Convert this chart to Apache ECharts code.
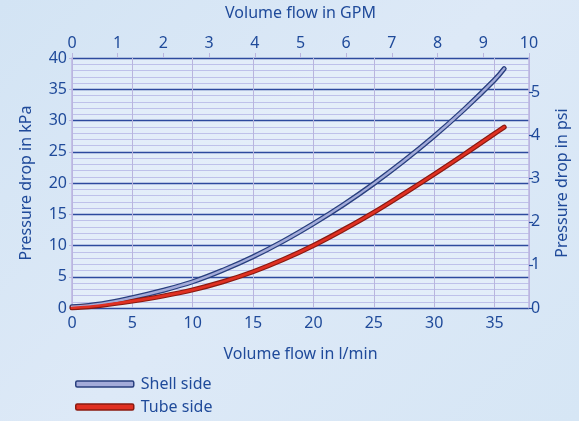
<!DOCTYPE html>
<html>
<head>
<meta charset="utf-8">
<script src="https://cdn.jsdelivr.net/npm/echarts@6/dist/echarts.min.js"></script>
<style>
html,body{margin:0;padding:0;}
#c{width:579px;height:421px;background:linear-gradient(135deg,#d3e4f4 0%,#dde9f7 50%,#d6e6f5 100%);}
</style>
</head>
<body>
<div id="c"></div>
<script>
var flowLmin = [0, 2.5, 5, 7.5, 10, 12.5, 15, 17.5, 20, 22.5, 25, 27.5, 30, 32.5, 35, 35.8];
var shellKPa = [0.2, 0.7, 1.65, 2.8, 4.2, 6.05, 8.2, 10.7, 13.5, 16.55, 19.9, 23.55, 27.5, 31.8, 36.5, 38.3];
var tubeKPa  = [0.0, 0.45, 1.1, 1.9, 2.9, 4.2, 5.8, 7.75, 10.0, 12.55, 15.3, 18.3, 21.4, 24.6, 27.9, 28.95];
var seriesNames = ['Shell side', 'Tube side'];
var gpmTicks = [0, 1, 2, 3, 4, 5, 6, 7, 8, 9, 10];
var psiTicks = [0, 1, 2, 3, 4, 5];

var LPM_PER_GPM = 3.78541;
var KPA_PER_PSI = 6.89476;
var txt = '#1f4a9a';
var font = 'Noto Sans';
var fs = 16;
function pairs(xs, ys){ return xs.map(function(x,i){ return [x, ys[i]]; }); }

var chart = echarts.init(document.getElementById('c'));
chart.setOption({
  backgroundColor: 'transparent',
  textStyle: {fontFamily: font},
  grid: {left: 72, right: 50, top: 58, bottom: 113, containLabel: false, outerBoundsMode: 'none',
         show: true, backgroundColor: 'rgba(235,243,252,0.55)', borderWidth: 0},
  legend: {
    orient: 'vertical', left: 70, top: 371, height: 60, itemWidth: 58, itemHeight: 6, itemGap: 7,
    textStyle: {color: txt, fontSize: fs, fontFamily: font, padding: [0,0,0,2]},
    data: [
      {name: seriesNames[0], icon: 'roundRect', itemStyle: {color: '#a3abd9', borderColor: '#283f7e', borderWidth: 1.5}},
      {name: seriesNames[1], icon: 'roundRect', itemStyle: {color: '#e03022', borderColor: '#8a1a10', borderWidth: 1.5}}
    ]
  },
  xAxis: [
    {type: 'value', position: 'bottom', min: 0, max: 10 * LPM_PER_GPM, interval: 5,
     name: 'Volume flow in l/min', nameLocation: 'middle', nameGap: 38,
     nameTextStyle: {color: txt, fontSize: fs, fontFamily: font},
     axisLine: {show: false, onZero: false}, axisTick: {show: false},
     axisLabel: {color: txt, fontSize: fs, margin: 7, showMaxLabel: false,
       formatter: function(v){ return (Math.abs(v % 5) < 1e-6) ? String(v) : ''; }},
     splitLine: {show: true, lineStyle: {color: '#b9b5de', width: 1}}},
    {type: 'value', position: 'top', min: 0, max: 10, interval: 1,
     name: 'Volume flow in GPM', nameLocation: 'middle', nameGap: 37,
     nameTextStyle: {color: txt, fontSize: fs, fontFamily: font},
     axisLine: {show: false, onZero: false},
     axisTick: {show: true, length: 5, lineStyle: {color: '#b9b5de', width: 1}},
     axisLabel: {color: txt, fontSize: fs, margin: 7},
     splitLine: {show: false}}
  ],
  yAxis: [
    {type: 'value', position: 'left', min: 0, max: 40, interval: 5,
     name: 'Pressure drop in kPa', nameLocation: 'middle', nameGap: 38,
     nameTextStyle: {color: txt, fontSize: fs, fontFamily: font},
     axisLine: {show: true, onZero: false, lineStyle: {color: '#bcb6e0', width: 1.5}},
     axisTick: {show: true, length: 3, lineStyle: {color: '#bcb6e0'}},
     axisLabel: {color: txt, fontSize: fs, margin: 5},
     splitLine: {show: true, lineStyle: {color: '#2d4a9e', width: 1.3}},
     minorTick: {show: false, splitNumber: 5},
     minorSplitLine: {show: true, lineStyle: {color: '#bec1ea', width: 1}}},
    {type: 'value', position: 'right', min: 0, max: 40 / KPA_PER_PSI, interval: 1,
     name: 'Pressure drop in psi', nameLocation: 'middle', nameGap: 25,
     nameTextStyle: {color: txt, fontSize: fs, fontFamily: font},
     axisLine: {show: true, onZero: false, lineStyle: {color: '#bcb6e0', width: 1.5}},
     axisTick: {show: true, length: 4, lineStyle: {color: txt, width: 1.2}},
     axisLabel: {color: txt, fontSize: fs, margin: 2, showMaxLabel: false,
       formatter: function(v){ return psiTicks.indexOf(v) >= 0 ? String(v) : ''; }},
     splitLine: {show: false}}
  ],
  series: [
    {name: seriesNames[0], type: 'line', xAxisIndex: 0, yAxisIndex: 0, smooth: 0.4, symbol: 'none', z: 3,
     data: pairs(flowLmin, shellKPa), lineStyle: {color: '#283f7e', width: 5, cap: 'round'}, itemStyle: {color: '#a3abd9'}},
    {name: seriesNames[0], type: 'line', xAxisIndex: 0, yAxisIndex: 0, smooth: 0.4, symbol: 'none', z: 4,
     data: pairs(flowLmin, shellKPa), lineStyle: {color: '#a3abd9', width: 2.4, cap: 'round'}, itemStyle: {color: '#a3abd9'}},
    {name: seriesNames[1], type: 'line', xAxisIndex: 0, yAxisIndex: 0, smooth: 0.4, symbol: 'none', z: 3,
     data: pairs(flowLmin, tubeKPa), lineStyle: {color: '#8a1a10', width: 5, cap: 'round'}, itemStyle: {color: '#e03022'}},
    {name: seriesNames[1], type: 'line', xAxisIndex: 0, yAxisIndex: 0, smooth: 0.4, symbol: 'none', z: 4,
     data: pairs(flowLmin, tubeKPa), lineStyle: {color: '#e03022', width: 2.6, cap: 'round'}, itemStyle: {color: '#e03022'}}
  ],
  animation: false
});
</script>
</body>
</html>
